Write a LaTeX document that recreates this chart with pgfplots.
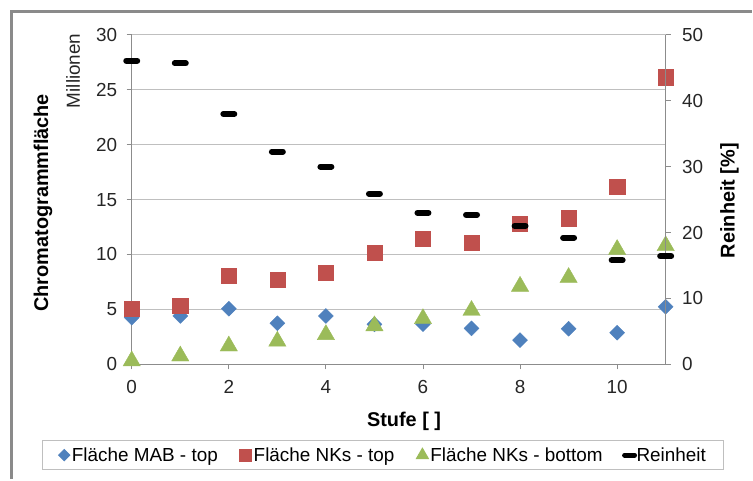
\documentclass[border=0pt]{standalone}
\usepackage{pgfplots}
\pgfplotsset{compat=1.18}
\usepackage{fontspec}
\setmainfont{Liberation Sans}
\definecolor{mab}{HTML}{4F81BD}
\definecolor{nkt}{HTML}{C0504D}
\definecolor{nkb}{HTML}{9BBB59}
\definecolor{gridc}{HTML}{BFBFBF}
\definecolor{axc}{HTML}{8C8C8C}
\definecolor{framec}{HTML}{8A8A8A}

\pgfplotstableread{
x mab nkt nkb
0 4.25 5.06 0.30
1 4.40 5.30 0.75
2 5.06 8.09 1.66
3 3.73 7.73 2.10
4 4.40 8.33 2.70
5 3.64 10.15 3.50
6 3.65 11.45 4.15
7 3.27 11.06 4.90
8 2.20 12.80 7.10
9 3.24 13.30 7.90
10 2.88 16.20 10.45
11 5.24 26.15 10.80
}\flaeche

\pgfplotstableread{
x rein
0 46.1
1 45.7
2 38.0
3 32.3
4 30.0
5 25.9
6 23.0
7 22.7
8 21.0
9 19.2
10 15.8
11 16.4
}\reinheit

\pgfplotsset{
  common/.style={
    at={(132bp,115bp)}, anchor=south west,
    scale only axis, width=535bp, height=330bp,
    xmin=0, xmax=11,
    clip=false,
    axis line style={axc, line width=0.9bp, -},
    tick style={axc, line width=0.9bp},
    tick align=outside, major tick length=5bp,
    ticklabel style={font=\fontsize{19}{19}\selectfont, text=black!85},
    /pgf/number format/assume math mode=true,
  },
}

\begin{document}
\begin{tikzpicture}
\path (0bp,0bp) rectangle (753bp,480bp);
\draw[framec, line width=3bp] (12bp,0bp) -- (12bp,468.5bp) -- (753bp,468.5bp);

\begin{axis}[common,
  ymin=0, ymax=30,
  axis x line*=bottom, axis y line*=left,
  xtick={0,2,...,10}, ytick={0,5,...,30},
  xticklabel style={yshift=-8bp},
  yticklabel style={xshift=-6bp},
  ymajorgrids, grid style={gridc, line width=0.9bp},
  xlabel={Stufe [ ]},
  xlabel style={at={(axis description cs:0.51,-0.172)}, anchor=center, font=\fontsize{20}{20}\selectfont\bfseries},
  ylabel={Chromatogrammfläche},
  ylabel style={at={(axis description cs:-0.166,0.49)}, anchor=center, font=\fontsize{20}{20}\selectfont\bfseries},
  legend columns=4,
  legend style={at={(axis description cs:0.471,-0.276)}, anchor=center,
    draw=gridc, line width=0.9bp, font=\fontsize{19}{19}\selectfont,
    inner xsep=16bp, inner ysep=5bp,
    /tikz/every even column/.append style={column sep=20bp}},
  legend cell align=left,
  legend image code/.code={\draw[mark repeat=2,mark phase=2,#1] plot coordinates {(0bp,0bp) (6bp,0bp) (12bp,0bp)};},
]
\addlegendimage{only marks, mark=square*, mark options={rotate=45, fill=mab, draw=mab}, mark size=4bp}
\addlegendentry{Fläche MAB - top}
\addlegendimage{only marks, mark=square*, mark options={fill=nkt, draw=nkt}, mark size=6bp}
\addlegendentry{Fläche NKs - top}
\addlegendimage{only marks, mark=triangle*, mark options={fill=nkb, draw=nkb}, mark size=7bp}
\addlegendentry{Fläche NKs - bottom}
\addlegendimage{only marks, mark=-, mark options={draw=black, line width=5bp, line cap=round}, mark size=5bp}
\addlegendentry{Reinheit}

\addplot[only marks, mark=square*, mark size=5.3bp, mark options={rotate=45, fill=mab, draw=mab}, forget plot] table[x=x, y=mab] {\flaeche};
\addplot[only marks, mark=square*, mark size=7.6bp, mark options={fill=nkt, draw=nkt}, forget plot] table[x=x, y=nkt] {\flaeche};
\addplot[only marks, mark=triangle*, mark size=10bp, mark options={fill=nkb, draw=nkb}, forget plot] table[x=x, y=nkb] {\flaeche};

\node[rotate=90, anchor=center, font=\fontsize{19}{19}\selectfont, text=black!85] at (axis description cs:-0.110,0.891) {Millionen};
\end{axis}

\begin{axis}[common,
  ymin=0, ymax=50,
  axis y line*=right, axis x line=none,
  ytick={0,10,...,50},
  yticklabel style={xshift=8bp},
  ylabel={Reinheit [\%]},
  ylabel style={at={(axis description cs:1.1196,0.497)}, anchor=center, rotate=0, font=\fontsize{20}{20}\selectfont\bfseries},
]
\addplot[only marks, mark=-, mark size=5.5bp, mark options={draw=black, line width=6bp, line cap=round}] table[x=x, y=rein] {\reinheit};
\end{axis}
\end{tikzpicture}
\end{document}
